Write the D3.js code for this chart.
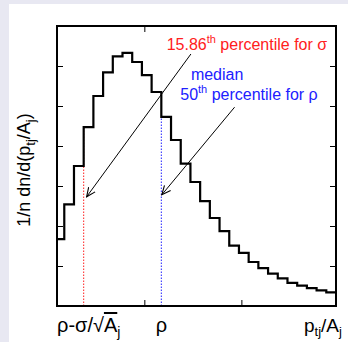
<!DOCTYPE html>
<html>
<head>
<meta charset="utf-8">
<script src="https://cdn.jsdelivr.net/npm/d3@7"></script>
<style>
  body { margin: 0; background: #fff; }
  svg { display: block; }
  text { font-family: "Liberation Sans", Arial, sans-serif; }
</style>
</head>
<body>
<div id="chart"></div>
<script>
// bin edges (in p/A units) and normalised heights
var binEdges = [0.1, 0.175, 0.275, 0.375, 0.475, 0.575, 0.675, 0.775, 0.875, 0.975, 1.075,
                1.175, 1.275, 1.375, 1.475, 1.575, 1.675, 1.775, 1.875, 1.975, 2.075,
                2.175, 2.275, 2.375, 2.475, 2.575, 2.675, 2.775, 2.875, 2.975];
var heights = [1.67, 2.54, 3.5, 4.47, 5.25, 5.84, 6.24, 6.33, 6.1, 5.77,
               5.35, 4.73, 4.15, 3.56, 3.1, 2.62, 2.2, 1.87, 1.51, 1.33,
               1.1, 0.945, 0.81, 0.69, 0.58, 0.51, 0.445, 0.39, 0.34];
var xTicks = [1, 2];
var yTicks = [1, 2, 3, 4, 5, 6];
var sigmaCut = 0.375;   // rho - sigma/sqrt(A)
var median = 1.175;     // rho

var W = 348, H = 342;
var margin = { top: 26, right: 12, bottom: 36, left: 57 };
var width = W - margin.left - margin.right;
var height = H - margin.top - margin.bottom;

var svg = d3.select("#chart").append("svg").attr("width", W).attr("height", H);

// lavender strip round the panel
svg.append("rect").attr("width", W).attr("height", H).attr("fill", "#e8e8f2");
svg.append("rect").attr("x", 9).attr("y", 4).attr("width", W - 9).attr("height", H - 4).attr("fill", "#fff");

var defs = svg.append("defs");
defs.append("marker")
    .attr("id", "arrow")
    .attr("viewBox", "0 0 10 10")
    .attr("refX", 9).attr("refY", 5)
    .attr("markerWidth", 10).attr("markerHeight", 10)
    .attr("markerUnits", "userSpaceOnUse")
    .attr("orient", "auto")
  .append("path")
    .attr("d", "M0,1 L9,5 L0,9")
    .attr("fill", "none")
    .attr("stroke", "#000")
    .attr("stroke-width", 1.1);

var g = svg.append("g").attr("transform", "translate(" + margin.left + "," + margin.top + ")");

var x = d3.scaleLinear().domain([0.1, 2.975]).range([0, width]);
var y = d3.scaleLinear().domain([0, 7]).range([height, 0]);

// dotted markers
g.append("line")
    .attr("x1", x(sigmaCut)).attr("x2", x(sigmaCut))
    .attr("y1", y(0)).attr("y2", y(heights[3]))
    .attr("stroke", "#ff2020").attr("stroke-width", 1).attr("stroke-dasharray", "1.5,1.5");
g.append("line")
    .attr("x1", x(median)).attr("x2", x(median))
    .attr("y1", y(0)).attr("y2", y(heights[11]))
    .attr("stroke", "#2020ff").attr("stroke-width", 1).attr("stroke-dasharray", "1.5,1.5");

// histogram as a step line
var steps = [];
heights.forEach(function (h, i) {
    steps.push([binEdges[i], h]);
    steps.push([binEdges[i + 1], h]);
});
var line = d3.line().x(function (d) { return x(d[0]); }).y(function (d) { return y(d[1]); });
g.append("path")
    .datum(steps)
    .attr("fill", "none")
    .attr("stroke", "#000")
    .attr("stroke-width", 2.2)
    .attr("d", line);

// frame and inward ticks
g.append("rect").attr("width", width).attr("height", height)
    .attr("fill", "none").attr("stroke", "#000").attr("stroke-width", 2);

var yAxisL = d3.axisLeft(y).tickValues(yTicks).tickSize(-6).tickFormat("");
var yAxisR = d3.axisRight(y).tickValues(yTicks).tickSize(-6).tickFormat("");
var xAxisB = d3.axisBottom(x).tickValues(xTicks).tickSize(-6).tickFormat("");
var xAxisT = d3.axisTop(x).tickValues([1]).tickSize(-6).tickFormat("");

g.append("g").call(yAxisL);
g.append("g").attr("transform", "translate(" + width + ",0)").call(yAxisR);
g.append("g").attr("transform", "translate(0," + height + ")").call(xAxisB);
g.append("g").call(xAxisT);
g.selectAll(".domain").remove();
g.selectAll(".tick line").attr("stroke", "#000").attr("stroke-width", 1);

// arrows
g.append("line")
    .attr("x1", x(1.48)).attr("y1", y(6.3))
    .attr("x2", x(0.405)).attr("y2", y(2.73))
    .attr("stroke", "#000").attr("stroke-width", 1)
    .attr("marker-end", "url(#arrow)");
g.append("line")
    .attr("x1", x(1.93)).attr("y1", y(4.97))
    .attr("x2", x(1.18)).attr("y2", y(2.78))
    .attr("stroke", "#000").attr("stroke-width", 1)
    .attr("marker-end", "url(#arrow)");

// annotations
var red = g.append("text")
    .attr("x", x(1.23)).attr("y", y(6.39))
    .attr("fill", "#ff2020").attr("font-size", 16);
red.append("tspan").text("15.86");
red.append("tspan").attr("font-size", 11).attr("dy", -7).text("th");
red.append("tspan").attr("dy", 7).text(" percentile for σ");

g.append("text")
    .attr("x", x(1.75)).attr("y", y(5.65))
    .attr("text-anchor", "middle")
    .attr("fill", "#2020ff").attr("font-size", 16)
    .text("median");
var blue = g.append("text")
    .attr("x", x(1.37)).attr("y", y(5.15))
    .attr("fill", "#2020ff").attr("font-size", 16);
blue.append("tspan").text("50");
blue.append("tspan").attr("font-size", 11).attr("dy", -7).text("th");
blue.append("tspan").attr("dy", 7).text(" percentile for ρ");

// x labels
var lab1 = g.append("text")
    .attr("x", 0).attr("y", height + 26)
    .attr("font-size", 20);
lab1.append("tspan").text("ρ-σ/√");
lab1.append("tspan").attr("text-decoration", "overline").text("A");
lab1.append("tspan").attr("font-size", 14).attr("dy", 5).text("j");

g.append("text")
    .attr("x", x(median)).attr("y", height + 26)
    .attr("text-anchor", "middle")
    .attr("font-size", 20)
    .text("ρ");

var lab3 = g.append("text")
    .attr("x", width - 32).attr("y", height + 26)
    .attr("font-size", 19);
lab3.append("tspan").text("p");
lab3.append("tspan").attr("font-size", 13).attr("dy", 4).text("tj");
lab3.append("tspan").attr("dy", -4).text("/A");
lab3.append("tspan").attr("font-size", 13).attr("dy", 4).text("j");

// y label
var ylab = svg.append("text")
    .attr("transform", "translate(30,170) rotate(-90)")
    .attr("text-anchor", "middle")
    .attr("font-size", 18);
ylab.append("tspan").text("1/n dn/d(p");
ylab.append("tspan").attr("font-size", 13).attr("dy", 5).text("tj");
ylab.append("tspan").attr("dy", -5).text("/A");
ylab.append("tspan").attr("font-size", 13).attr("dy", 5).text("j");
ylab.append("tspan").attr("dy", -5).text(")");
</script>
</body>
</html>
